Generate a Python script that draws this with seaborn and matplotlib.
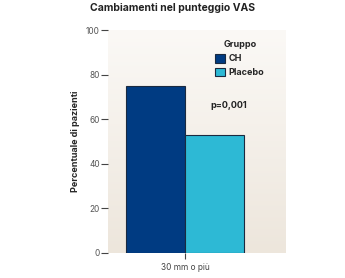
import matplotlib
matplotlib.use("Agg")
import matplotlib.pyplot as plt
import seaborn as sns
import numpy as np
import pandas as pd
from matplotlib.colors import LinearSegmentedColormap

categories = ["30 mm o più"]
groups = ["CH", "Placebo"]
values = [75, 53]
colors = ["#003B82", "#2DB9D5"]
yticks = [0, 20, 40, 60, 80, 100]

df = pd.DataFrame({"cat": categories * 2, "Gruppo": groups, "val": values})

sns.set_style("white")
plt.rcParams['font.family'] = ['Inter', 'DejaVu Sans']

fig = plt.figure(figsize=(3.45, 2.78), dpi=100)
ax = fig.add_axes([108/345, 1-253/278, 177/345, 223/278])

grad = np.linspace(0, 1, 256).reshape(-1, 1)
cmap = LinearSegmentedColormap.from_list("bg", ["#FBF9F6", "#EDE6DC"])
ax.imshow(grad, aspect="auto", cmap=cmap, extent=[0, 1, 0, 1],
          transform=ax.transAxes, zorder=0)

sns.barplot(data=df, x="cat", y="val", hue="Gruppo", palette=colors, saturation=1,
            width=0.667, edgecolor="#1a2a40", linewidth=0.8, ax=ax, zorder=2)

ax.set_ylim(0, 100)
ax.set_xlim(-77/177, 100/177)
ax.set_yticks(yticks)
ax.set_yticklabels([str(t) for t in yticks], fontsize=6, color="#555555")
ax.tick_params(axis="y", length=5, width=0.8, color="#444444", pad=1, direction="out", left=True)
ax.tick_params(axis="x", length=4, width=0.8, color="#444444", pad=3, bottom=True, labelsize=6, labelcolor="#444444")
for s in ax.spines.values():
    s.set_visible(False)
ax.set_xlabel("")
ax.set_ylabel("Percentuale di pazienti", fontsize=6.5, fontweight="bold", labelpad=4)
fig.text(0.5, 1-8/278, "Cambiamenti nel punteggio VAS", ha="center", va="center",
         fontsize=7.5, fontweight="bold", color="#222222")

leg = ax.legend(title="Gruppo", loc="upper left", bbox_to_anchor=(0.56, 0.99),
                frameon=False, fontsize=6.5, title_fontsize=6.5,
                handlelength=1.1, handleheight=1.1, handletextpad=0.4, labelspacing=0.5)
leg.get_title().set_fontweight("bold")
for t in leg.get_texts():
    t.set_fontweight("bold")
leg._legend_box.align = "center"

ax.text(0.58, 0.66, "p=0,001", transform=ax.transAxes, fontsize=6.5, fontweight="bold",
        ha="left", va="center", color="#222222")

fig.savefig("out.png", dpi=100)
